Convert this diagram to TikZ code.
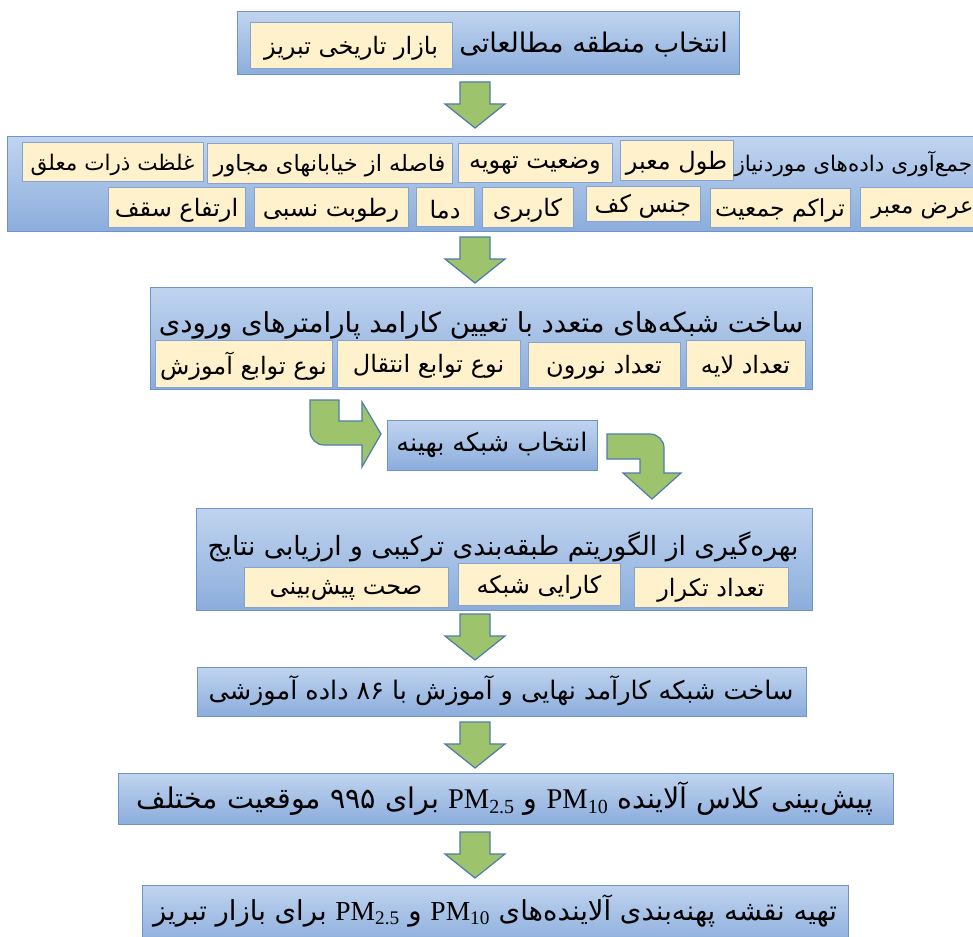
\documentclass[tikz,border=0pt]{standalone}
\usepackage{fontspec}
\setmainfont{Liberation Serif}
\newfontfamily\fa[Script=Arabic]{DejaVu Sans}
\TeXXeTstate=1
\definecolor{bluetop}{HTML}{C0D4EF}
\definecolor{bluebot}{HTML}{8BADDC}
\definecolor{blueline}{HTML}{6F94C6}
\definecolor{beige}{HTML}{FFF1CB}
\definecolor{beigeline}{HTML}{86A3CE}
\definecolor{gfill}{HTML}{9DC46C}
\definecolor{gline}{HTML}{4F7DAA}
\tikzset{
 fs/.style={font=\fa\fontsize{#1}{#1}\selectfont},
 bbox/.style={draw=blueline, line width=1pt, top color=bluetop, bottom color=bluebot, inner sep=0, outer sep=0},
 ybox/.style={draw=beigeline, line width=0.8pt, fill=beige, inner sep=0, outer sep=0, fs=24},
 ftext/.style={inner sep=0, outer sep=0, fs=26},
 garrow/.style={draw=gline, line width=1.2pt, fill=gfill, line join=miter},
 downarr/.pic={\path[garrow] (-15,0) -- (15,0) -- (15,22) -- (30,22) -- (0,46) -- (-30,22) -- (-15,22) -- cycle;}
}
\newcommand\rbox[7]{\node[#1, anchor=north west, minimum width={#4-#2}, minimum height={#5-#3}] (#6) at (#2,#3) {#7};}
\newcommand\R[1]{\beginR #1\endR}
\newcommand\Y[1]{\raisebox{-3pt}[\height][\depth]{\beginR #1\endR}}
\newcommand\PM[1]{\beginL{\rmfamily PM\textsubscript{#1}}\endL{}}
\begin{document}
\begin{tikzpicture}[x=1pt,y=-1pt]
\useasboundingbox (0,0) rectangle (973,936);
\fill[white] (0,0) rectangle (973,936);
% box 1
\rbox{bbox}{237}{12}{739}{75}{b1}{}
\rbox{ybox}{250}{22}{452}{68}{b1a}{\Y{بازار تاریخی تبریز}}
\node[ftext, fs=27, anchor=east] (b1t) at (728,45) {\R{انتخاب منطقه مطالعاتی}};
\pic at (475,82) {downarr};
% box 2
\rbox{bbox}{7}{137}{985}{231}{b2}{}
\rbox{ybox, fs=21.5}{22}{142}{203}{181}{g1}{\Y{غلظت ذرات معلق}}
\rbox{ybox, fs=22.5}{207}{143}{452}{183}{g2}{\Y{فاصله از خیابانهای مجاور}}
\rbox{ybox}{458}{143}{612}{182}{g3}{\Y{وضعیت تهویه}}
\rbox{ybox}{620}{140}{733}{180}{g4}{\Y{طول معبر}}
\node[ftext, fs=21.5, anchor=east] (b2t) at (972,164) {\R{جمع‌آوری داده‌های موردنیاز}};
\rbox{ybox}{108}{187}{245}{227}{h1}{\Y{ارتفاع سقف}}
\rbox{ybox}{254}{187}{408}{227}{h2}{\Y{رطوبت نسبی}}
\rbox{ybox}{416}{187}{474}{226}{h3}{\Y{دما}}
\rbox{ybox}{482}{187}{573}{227}{h4}{\Y{کاربری}}
\rbox{ybox}{586}{186}{700}{221}{h5}{\Y{جنس کف}}
\rbox{ybox, fs=23.5}{710}{188}{850}{227}{h6}{\Y{تراکم جمعیت}}
\rbox{ybox, fs=22.5}{860}{187}{985}{227}{h7}{\Y{عرض معبر}}
\pic at (475,237) {downarr};
% box 3
\rbox{bbox}{150}{287}{812}{389}{b3}{}
\node[ftext, fs=27.5] (b3t) at (481,325) {\R{ساخت شبکه‌های متعدد با تعیین کارامد پارامترهای ورودی}};
\rbox{ybox}{155}{340}{332}{387}{k1}{\Y{نوع توابع آموزش}}
\rbox{ybox}{337}{340}{520}{387}{k2}{\Y{نوع توابع انتقال}}
\rbox{ybox}{528}{342}{680}{387}{k3}{\Y{تعداد نورون}}
\rbox{ybox}{686}{340}{805}{387}{k4}{\Y{تعداد لایه}}
% bent arrows and middle box
\path[garrow] (310,400) -- (310,431) arc[start angle=180, end angle=90, radius=14] -- (362,445) -- (362,467) -- (381,434) -- (362,402) -- (362,421) -- (339,421) -- (339,400) -- cycle;
\rbox{bbox}{387}{420}{597}{470}{m}{}
\node[ftext, fs=25.5] (mt) at (492,445) {\R{انتخاب شبکه بهینه}};
\path[garrow] (607,434) -- (650,434) arc[start angle=-90, end angle=0, radius=14] -- (664,473) -- (681,473) -- (652,499) -- (623,473) -- (640,473) -- (640,459) -- (607,459) -- cycle;
% box 4
\rbox{bbox}{196}{508}{812}{610}{b4}{}
\node[ftext, fs=26.5] (b4t) at (503,547) {\R{بهره‌گیری از الگوریتم طبقه‌بندی ترکیبی و ارزیابی نتایج}};
\rbox{ybox}{244}{567}{448}{607}{p1}{\Y{صحت پیش‌بینی}}
\rbox{ybox}{458}{563}{620}{605}{p2}{\Y{کارایی شبکه}}
\rbox{ybox}{634}{567}{788}{607}{p3}{\Y{تعداد تکرار}}
\pic at (475,614) {downarr};
% box 5
\rbox{bbox}{197}{667}{806}{716}{b5}{}
\node[ftext, fs=25.5] (b5t) at (501,691) {\R{ساخت شبکه کارآمد نهایی و آموزش با ۸۶ داده آموزشی}};
\pic at (475,722) {downarr};
% box 6
\rbox{bbox}{118}{773}{893}{824}{b6}{}
\node[ftext, fs=28.5] (b6t) at (505,799) {\R{پیش‌بینی کلاس آلاینده \PM{10} و \PM{2.5} برای ۹۹۵ موقعیت مختلف}};
\pic at (475,832) {downarr};
% box 7
\rbox{bbox}{142}{885}{848}{945}{b7}{}
\node[ftext, fs=27.5] (b7t) at (495,911) {\R{تهیه نقشه پهنه‌بندی آلاینده‌های \PM{10} و \PM{2.5} برای بازار تبریز}};
\end{tikzpicture}
\end{document}
